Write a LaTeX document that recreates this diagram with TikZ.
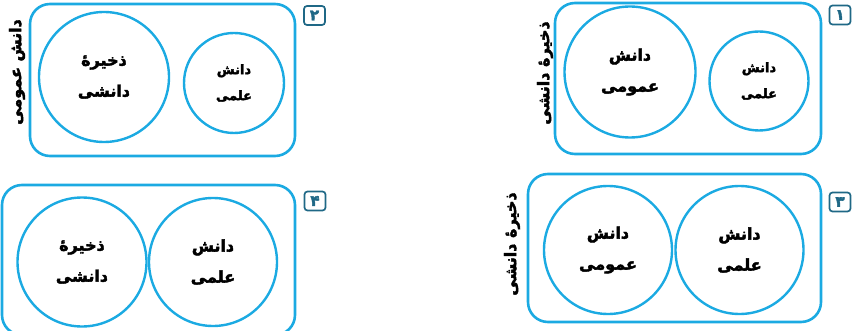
\documentclass[tikz,border=0pt]{standalone}
\usepackage{fontspec}
\newfontfamily\arabicfont[Script=Arabic,BoldFeatures={FakeBold=2.6}]{DejaVu Sans}
\TeXXeTstate=1
\newcommand{\pers}[1]{\beginR #1\endR}
\definecolor{setblue}{RGB}{27,170,226}
\definecolor{numteal}{RGB}{31,104,134}
\tikzset{
  setbox/.style={rectangle,draw=setblue,line width=2.6pt,rounded corners=20pt},
  setcirc/.style={circle,draw=setblue,line width=2.4pt,inner sep=0pt,align=center,
    font=\arabicfont\bfseries\fontsize{16}{31}\selectfont},
  smallcirc/.style={setcirc,font=\arabicfont\bfseries\fontsize{13}{26}\selectfont},
  numbox/.style={rectangle,draw=numteal,text=numteal,line width=1.7pt,rounded corners=3pt,
    minimum width=21pt,minimum height=19pt,inner sep=0pt,font=\arabicfont\bfseries\fontsize{15}{15}\selectfont},
  sidelabel/.style={rotate=90,font=\arabicfont\bfseries\fontsize{16}{16}\selectfont}
}
\begin{document}
\begin{tikzpicture}[x=1pt,y=-1pt]
\clip (0,0) rectangle (854,331);
% 1
\node (R1) [setbox,minimum width=266pt,minimum height=151pt] at (688,78.5) {};
\node (A1) [setcirc,minimum size=131pt] at (630,72) {\pers{دانش}\\\pers{عمومی}};
\node (B1) [smallcirc,minimum size=99pt] at (759,81) {\pers{دانش}\\\pers{علمی}};
\node (L1) [sidelabel] at (545,73) {\pers{ذخیرهٔ دانشی}};
\node (N1) [numbox] at (840,15) {۱};
% 2
\node (R2) [setbox,minimum width=265pt,minimum height=152pt] at (162.5,80) {};
\node (A2) [setcirc,minimum size=130pt] at (104,77) {\pers{ذخیرهٔ}\\\pers{دانشی}};
\node (B2) [smallcirc,minimum size=100pt] at (234,83) {\pers{دانش}\\\pers{علمی}};
\node (L2) [sidelabel] at (17,72) {\pers{دانش عمومی}};
\node (N2) [numbox] at (314.5,15.5) {۲};
% 3
\node (R3) [setbox,minimum width=293pt,minimum height=148pt] at (674.5,248) {};
\node (A3) [setcirc,minimum size=128pt] at (608,250) {\pers{دانش}\\\pers{عمومی}};
\node (B3) [setcirc,minimum size=128pt] at (739.5,250) {\pers{دانش}\\\pers{علمی}};
\node (L3) [sidelabel] at (512,244) {\pers{ذخیرهٔ دانشی}};
\node (N3) [numbox] at (840,202) {۳};
% 4
\node (R4) [setbox,minimum width=293pt,minimum height=150pt] at (148.5,260) {};
\node (A4) [setcirc,minimum size=129pt] at (82,262) {\pers{ذخیرهٔ}\\\pers{دانشی}};
\node (B4) [setcirc,minimum size=128pt] at (213,262) {\pers{دانش}\\\pers{علمی}};
\node (N4) [numbox] at (315,201) {۴};
\end{tikzpicture}
\end{document}
